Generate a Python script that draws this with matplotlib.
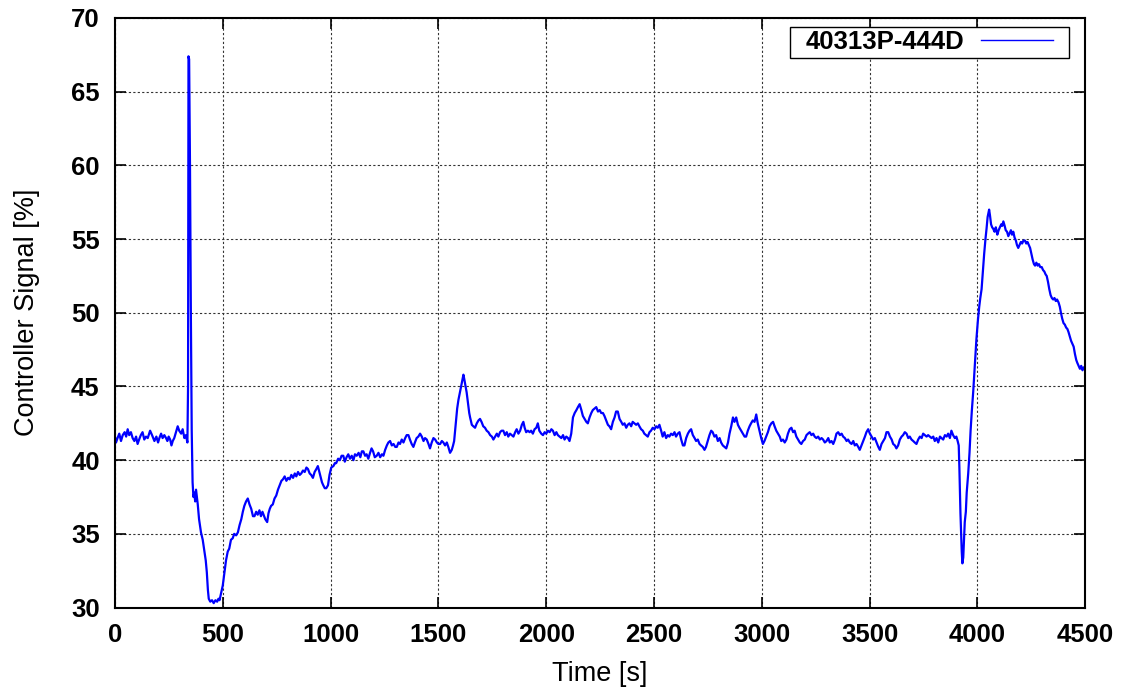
import matplotlib.pyplot as plt

# Controller signal readings, (time [s], signal [%])
before_step = [
    (0, 41.6), (5, 41.2), (12, 41.5), (20, 41.8), (28, 41.3), (36, 41.7), (45, 41.9),
    (52, 41.6), (59, 42.1), (66, 41.7), (74, 41.9), (82, 41.5), (90, 41.3), (98, 41.6),
    (105, 41.1), (112, 41.4), (120, 41.7), (128, 41.9), (136, 41.4), (144, 41.6),
    (152, 41.5), (163, 42.0), (172, 41.7), (183, 41.3), (192, 41.6), (200, 41.2),
    (206, 41.5), (214, 41.8), (221, 41.5), (229, 41.7), (237, 41.5), (243, 41.3),
    (249, 41.6), (256, 41.4), (262, 41.0), (268, 41.3), (275, 41.5), (283, 41.9),
    (291, 42.3), (298, 42.0), (307, 41.8), (314, 42.1), (322, 41.5), (329, 41.7),
    (336, 41.2),
]

spike_and_dip = [
    (339, 45.0), (341, 67.4), (344, 67.2), (348, 60.0), (352, 50.0), (356, 42.0),
    (360, 38.5), (364, 37.5), (368, 37.8), (372, 37.2), (376, 38.0), (379, 37.6),
    (384, 37.0), (390, 36.0), (399, 35.1), (407, 34.6), (415, 33.8), (421, 33.2),
    (426, 32.4), (431, 31.2), (435, 30.6), (442, 30.4), (450, 30.5), (458, 30.3),
    (466, 30.5), (474, 30.4), (480, 30.6), (485, 30.5), (491, 30.9), (500, 31.5),
    (508, 32.4), (515, 33.2), (523, 33.8), (530, 34.0), (538, 34.6), (546, 34.7),
    (553, 35.0), (562, 34.9), (570, 35.1), (578, 35.6), (586, 36.0), (593, 36.5),
    (600, 36.9), (608, 37.2), (616, 37.4), (624, 37.0), (632, 36.7), (640, 36.2),
    (647, 36.2), (655, 36.5), (662, 36.3), (670, 36.6), (677, 36.2), (684, 36.5),
    (689, 36.3), (697, 36.0), (706, 35.8), (712, 36.4), (718, 36.7), (724, 36.9),
]

recovery = [
    (732, 37.0), (740, 37.4), (748, 37.6), (756, 38.0), (764, 38.3), (772, 38.6),
    (779, 38.7), (787, 38.9), (795, 38.6), (803, 38.8), (810, 38.7), (818, 39.0),
    (826, 38.8), (834, 39.1), (841, 38.9), (849, 39.2), (857, 39.0), (864, 39.1),
    (872, 39.3), (880, 39.2), (888, 39.5), (895, 39.4), (903, 39.1), (910, 39.0),
    (918, 38.8), (926, 39.2), (934, 39.4), (941, 39.6), (948, 39.2), (955, 38.8),
    (960, 38.5), (966, 38.3), (973, 38.1), (980, 38.1), (988, 38.3), (995, 39.0),
    (1003, 39.5), (1013, 39.6), (1020, 39.8), (1026, 39.8), (1035, 40.1), (1043, 40.0),
    (1051, 40.3), (1059, 40.3), (1066, 39.9), (1074, 40.2), (1082, 40.4), (1090, 40.1),
    (1098, 40.3), (1106, 40.0), (1113, 40.4), (1121, 40.3), (1130, 40.5), (1138, 40.2),
    (1145, 40.6), (1152, 40.6), (1160, 40.3), (1167, 40.4), (1175, 40.1), (1183, 40.5),
    (1190, 40.8), (1197, 40.6), (1205, 40.2), (1214, 40.3), (1222, 40.5), (1230, 40.2),
    (1238, 40.4), (1245, 40.3), (1253, 40.7), (1261, 41.0), (1268, 41.2), (1276, 41.3),
    (1284, 41.0), (1292, 41.1), (1300, 40.9), (1307, 40.9), (1315, 41.2), (1322, 41.1),
    (1330, 41.4), (1338, 41.2), (1346, 41.5), (1353, 41.7), (1361, 41.7), (1368, 41.4),
    (1376, 41.1), (1384, 40.9), (1391, 41.2), (1399, 41.5), (1407, 41.6), (1415, 41.8),
    (1423, 41.6), (1431, 41.3), (1438, 41.5), (1446, 41.4), (1454, 41.1), (1461, 40.8),
    (1469, 41.2), (1477, 41.5), (1485, 41.4), (1493, 41.2), (1500, 41.1), (1508, 41.1),
    (1516, 41.3), (1523, 41.2), (1531, 41.0), (1539, 41.2), (1546, 40.9), (1554, 40.5),
    (1562, 40.7), (1568, 41.0), (1573, 41.3),
]

bump_1600 = [
    (1580, 42.4), (1587, 43.5), (1593, 44.1), (1600, 44.6), (1608, 45.2), (1616, 45.8),
    (1620, 45.5), (1626, 45.0), (1631, 44.6), (1638, 43.8), (1643, 43.2), (1647, 42.9),
    (1655, 42.4), (1662, 42.3), (1670, 42.2), (1678, 42.5), (1686, 42.7), (1693, 42.8),
    (1700, 42.6), (1708, 42.3), (1716, 42.2), (1724, 42.0), (1732, 41.9), (1740, 41.7),
    (1748, 41.6), (1755, 41.4), (1763, 41.6), (1771, 41.8), (1778, 41.6), (1786, 41.9),
    (1793, 42.0), (1801, 42.0), (1809, 41.7), (1817, 41.9), (1824, 41.6), (1832, 41.8),
    (1840, 41.7), (1848, 41.6), (1856, 41.9), (1863, 42.1), (1871, 41.8), (1879, 42.0),
    (1887, 42.4), (1894, 42.6), (1900, 42.2), (1907, 41.9), (1915, 42.0), (1923, 41.9),
    (1930, 42.0), (1938, 41.8), (1946, 42.1), (1954, 42.2), (1961, 42.5), (1968, 42.0),
    (1977, 41.8), (1985, 41.7), (1993, 41.9), (2000, 41.8), (2008, 42.0), (2016, 41.9),
    (2024, 42.1), (2031, 42.0), (2039, 41.7), (2047, 41.9), (2054, 41.7), (2062, 41.6),
    (2070, 41.5), (2078, 41.7), (2085, 41.4), (2093, 41.6), (2101, 41.5), (2108, 41.3),
    (2116, 41.8),
]

steady = [
    (2124, 42.9), (2132, 43.2), (2140, 43.4), (2147, 43.6), (2155, 43.8), (2163, 43.4),
    (2170, 43.0), (2178, 42.8), (2186, 42.6), (2193, 42.5), (2201, 42.9), (2209, 43.2),
    (2216, 43.4), (2224, 43.5), (2232, 43.6), (2240, 43.3), (2248, 43.4), (2255, 43.2),
    (2263, 43.2), (2270, 43.0), (2278, 42.7), (2286, 42.4), (2293, 42.3), (2301, 42.1),
    (2309, 42.6), (2317, 42.9), (2324, 43.3), (2332, 43.3), (2340, 42.8), (2348, 42.6),
    (2355, 42.4), (2363, 42.5), (2371, 42.2), (2378, 42.4), (2386, 42.5), (2394, 42.3),
    (2401, 42.6), (2409, 42.5), (2417, 42.4), (2425, 42.5), (2432, 42.3), (2440, 42.1),
    (2448, 42.0), (2455, 41.8), (2463, 41.7), (2471, 41.6), (2479, 41.9), (2486, 42.0),
    (2494, 42.2), (2502, 42.1), (2510, 42.3), (2517, 42.2), (2525, 42.4), (2533, 42.0),
    (2540, 41.6), (2548, 41.9), (2556, 41.5), (2564, 41.7), (2571, 41.6), (2579, 41.8),
    (2587, 41.7), (2595, 41.9), (2602, 41.6), (2610, 41.8), (2618, 41.9), (2626, 41.4),
    (2634, 41.0), (2641, 41.0), (2649, 41.5), (2657, 41.8), (2665, 42.0), (2672, 42.1),
    (2680, 41.7), (2688, 41.5), (2695, 41.3), (2703, 41.4), (2711, 41.1), (2718, 41.0),
    (2726, 40.9), (2734, 40.7), (2741, 40.9), (2749, 41.3), (2757, 41.7), (2765, 42.0),
    (2772, 41.9), (2780, 41.6), (2788, 41.7), (2796, 41.3), (2804, 41.5), (2811, 41.2),
    (2819, 41.0), (2827, 40.9), (2835, 40.8), (2843, 41.2), (2850, 41.8), (2858, 42.3),
    (2866, 42.9), (2873, 42.6), (2881, 42.9), (2889, 42.4), (2896, 42.2), (2904, 42.0),
    (2912, 41.8), (2920, 41.6), (2927, 41.6), (2935, 42.0), (2943, 42.3), (2950, 42.5),
    (2958, 42.7), (2966, 42.6), (2974, 43.1), (2981, 42.5), (2989, 42.0), (2997, 41.5),
    (3005, 41.1), (3012, 41.3), (3020, 41.6), (3028, 41.9), (3036, 42.3), (3044, 42.5),
    (3052, 42.6), (3059, 42.3), (3067, 42.0), (3075, 41.8), (3083, 41.6), (3090, 41.3),
    (3098, 41.4), (3106, 41.2), (3114, 41.4), (3121, 41.8), (3129, 42.1), (3137, 42.2),
    (3145, 41.9), (3152, 42.0), (3160, 41.6), (3168, 41.4), (3176, 41.2), (3183, 41.1),
    (3191, 41.3), (3199, 41.4), (3207, 41.7), (3214, 41.8), (3222, 41.9), (3230, 41.7),
    (3238, 41.8), (3245, 41.6), (3253, 41.5), (3261, 41.6), (3269, 41.4), (3277, 41.5),
    (3284, 41.4), (3292, 41.2), (3300, 41.3), (3308, 41.5), (3315, 41.2), (3323, 41.3),
    (3331, 41.1), (3339, 41.4), (3346, 41.8), (3354, 41.9), (3362, 41.7), (3370, 41.8),
    (3377, 41.6), (3385, 41.5), (3393, 41.3), (3400, 41.4), (3408, 41.2), (3416, 41.1),
    (3424, 41.3), (3431, 41.0), (3439, 41.1), (3447, 40.9), (3454, 40.7), (3462, 41.0),
    (3470, 41.3), (3478, 41.6), (3485, 41.9), (3493, 42.1), (3501, 41.8), (3509, 41.6),
    (3516, 41.4), (3524, 41.5), (3532, 41.2), (3540, 40.9), (3547, 40.7), (3555, 41.1),
    (3563, 41.3), (3571, 41.5), (3578, 41.9), (3586, 41.9), (3594, 41.6), (3602, 41.4),
    (3609, 41.1), (3617, 41.0), (3624, 40.8), (3632, 41.0), (3640, 41.4), (3648, 41.6),
    (3655, 41.7), (3663, 41.9), (3671, 41.8), (3679, 41.5), (3686, 41.6), (3694, 41.4),
    (3702, 41.3), (3709, 41.2), (3717, 41.1), (3725, 41.4), (3733, 41.6), (3741, 41.5),
    (3748, 41.8), (3756, 41.7), (3764, 41.6), (3771, 41.7), (3779, 41.6), (3787, 41.5),
    (3795, 41.6), (3802, 41.3), (3810, 41.5), (3818, 41.2), (3826, 41.6), (3833, 41.5),
    (3841, 41.4), (3849, 41.7), (3857, 41.6), (3864, 41.8), (3872, 41.5), (3879, 42.0),
    (3887, 41.7), (3895, 41.5), (3902, 41.6), (3908, 41.3), (3913, 41.0),
]

final_step = [
    (3916, 39.5), (3919, 37.5), (3921, 36.4), (3924, 35.0), (3927, 33.8), (3930, 33.0),
    (3934, 33.4), (3938, 34.8), (3941, 35.8), (3946, 36.5), (3950, 37.8), (3957, 39.1),
    (3963, 40.5), (3968, 42.0), (3974, 43.4), (3980, 44.6), (3986, 46.0), (3991, 47.2),
    (3995, 48.2), (4002, 49.5), (4008, 50.4), (4013, 51.0), (4019, 51.6), (4025, 52.8),
    (4031, 54.0), (4037, 55.0), (4042, 55.7), (4047, 56.5), (4054, 57.0), (4058, 56.6),
    (4063, 56.0), (4068, 55.8), (4073, 55.7), (4079, 55.5), (4085, 55.8), (4092, 55.3),
    (4098, 55.6), (4104, 55.8), (4110, 56.0), (4115, 55.9), (4120, 56.2), (4126, 55.9),
    (4131, 55.6), (4137, 55.5), (4143, 55.2), (4149, 55.4), (4155, 55.6), (4160, 55.3),
    (4166, 55.5), (4172, 55.1), (4178, 54.9), (4183, 54.6), (4189, 54.4), (4195, 54.6),
    (4201, 54.8), (4207, 54.7), (4213, 54.9), (4220, 54.9), (4226, 54.7), (4232, 54.8),
    (4238, 54.6), (4244, 54.4), (4250, 54.0), (4256, 53.6), (4262, 53.3), (4267, 53.2),
    (4273, 53.4), (4279, 53.2), (4285, 53.3), (4291, 53.1), (4298, 53.1), (4304, 52.9),
    (4310, 52.8), (4316, 52.6), (4321, 52.5), (4327, 52.1), (4333, 51.6), (4339, 51.2),
    (4345, 51.0), (4351, 50.9), (4357, 51.0), (4363, 50.8), (4369, 50.9), (4376, 50.7),
    (4382, 50.4), (4387, 50.0), (4393, 49.6), (4399, 49.3), (4405, 49.2), (4411, 49.0),
    (4417, 48.9), (4422, 48.7), (4428, 48.4), (4434, 48.1), (4440, 47.9), (4446, 47.7),
    (4452, 47.2), (4458, 46.8), (4463, 46.6), (4469, 46.4), (4475, 46.2), (4481, 46.4),
    (4487, 46.1), (4493, 46.3), (4500, 46.2),
]

series_label = '40313P-444D'
x_ticks = [0, 500, 1000, 1500, 2000, 2500, 3000, 3500, 4000, 4500]
y_ticks = [30, 35, 40, 45, 50, 55, 60, 65, 70]

segments = [before_step, spike_and_dip, recovery, bump_1600, steady, final_step]
points = [p for seg in segments for p in seg]
time_s = [p[0] for p in points]
signal = [p[1] for p in points]

plt.rcParams['font.family'] = ['Liberation Sans', 'DejaVu Sans']

fig = plt.figure(figsize=(11.27, 6.92), dpi=100)
ax = fig.add_axes([0.102, 0.122, 0.861, 0.852])

ax.plot(time_s, signal, color='#0000ff', linewidth=1.6, label=series_label)

ax.set_xlim(0, 4500)
ax.set_ylim(30, 70)
ax.set_xticks(x_ticks)
ax.set_yticks(y_ticks)
ax.tick_params(direction='in', length=8, width=1.2, top=True, right=True,
               labelsize=18.5, pad=11)
for lbl in ax.get_xticklabels() + ax.get_yticklabels():
    lbl.set_fontweight('bold')

ax.grid(True, color='#333333', linestyle=(0, (2, 2)), linewidth=0.8)
for s in ax.spines.values():
    s.set_linewidth(1.5)
    s.set_color('black')

ax.set_xlabel('Time [s]', fontsize=19.5, labelpad=10)
ax.set_ylabel('Controller Signal [%]', fontsize=19.5, labelpad=22)

# gnuplot style key: label first, wide side padding, tight top/bottom
leg = ax.legend(loc='upper right', markerfirst=False, fancybox=False,
                framealpha=1, edgecolor='black', handlelength=2.8,
                handletextpad=0.65, borderpad=0.0, borderaxespad=0.0,
                prop={'size': 18.5, 'weight': 'bold'},
                bbox_to_anchor=(0.967, 0.979))
frame = leg.get_frame()
frame.set_linewidth(1.0)
frame.set_boxstyle('square', pad=0.6)
frame.set_mutation_aspect(0.22)
leg.get_lines()[0].set_linewidth(1.0)

plt.savefig('out.png', dpi=100)
